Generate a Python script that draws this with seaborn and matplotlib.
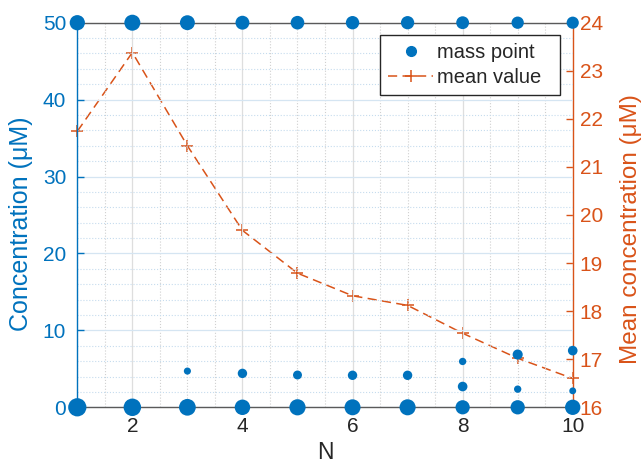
import pandas as pd
import seaborn as sns
import matplotlib.pyplot as plt
from matplotlib.lines import Line2D
from matplotlib.ticker import MultipleLocator

# support points of the discrete distribution for each N (concentration, uM)
n_values = [1, 2, 3, 4, 5, 6, 7, 8, 9, 10]
mass_points = [
    [0, 50],
    [0, 50],
    [0, 4.71, 50],
    [0, 4.41, 50],
    [0, 4.20, 50],
    [0, 4.16, 50],
    [0, 4.16, 50],
    [0, 2.70, 5.96, 50],
    [0, 2.36, 6.86, 50],
    [0, 2.14, 7.37, 50],
]
# weight of each mass point (drawn as marker size)
mass_weights = [
    [0.566, 0.434],
    [0.532, 0.468],
    [0.499, 0.080, 0.421],
    [0.444, 0.180, 0.376],
    [0.476, 0.160, 0.364],
    [0.467, 0.180, 0.353],
    [0.471, 0.180, 0.349],
    [0.390, 0.190, 0.090, 0.330],
    [0.393, 0.090, 0.210, 0.307],
    [0.439, 0.070, 0.190, 0.301],
]
mean_values = [21.74, 23.38, 21.44, 19.68, 18.79, 18.32, 18.12, 17.54, 17.02, 16.60]

BLUE = "#0072BD"
ORANGE = "#D95319"

rows = []
for n, pts, ws in zip(n_values, mass_points, mass_weights):
    for c, w in zip(pts, ws):
        rows.append({"N": n, "conc": c, "weight": w})
df = pd.DataFrame(rows)

# marker diameter grows linearly with weight
size_map = {w: (3.8 + 16.5 * w) ** 2 for w in df["weight"].unique()}

sns.set_style("white")
plt.rcParams["font.family"] = ["Liberation Sans", "DejaVu Sans"]

fig = plt.figure(figsize=(6.42, 4.68), dpi=100)
ax = fig.add_axes([0.1204, 0.1297, 0.7717, 0.8218])
ax2 = ax.twinx()

# left axis on top so the markers sit over the right spine
ax.set_zorder(ax2.get_zorder() + 1)
ax.patch.set_visible(False)

sns.lineplot(x=n_values, y=mean_values, ax=ax2, color=ORANGE, linestyle="--",
             linewidth=1.1, marker="+", markersize=9, markeredgewidth=1.1,
             markeredgecolor=ORANGE, clip_on=False)
ax2.lines[0].set_dashes((6, 3.5))

sns.scatterplot(data=df, x="N", y="conc", size="weight", sizes=size_map,
                color=BLUE, linewidth=0, legend=False, clip_on=False,
                zorder=5, ax=ax)

ax.set_xlim(1, 10)
ax.set_ylim(0, 50)
ax2.set_ylim(16, 24)
ax.xaxis.set_major_locator(MultipleLocator(2))
ax.xaxis.set_minor_locator(MultipleLocator(0.5))
ax.yaxis.set_major_locator(MultipleLocator(10))
ax.yaxis.set_minor_locator(MultipleLocator(2))
ax2.yaxis.set_major_locator(MultipleLocator(1))

# grid
ax.xaxis.grid(True, which="major", color="#dedede", linewidth=0.9)
ax.yaxis.grid(True, which="major", color="#d5e5f2", linewidth=0.9)
ax.xaxis.grid(True, which="minor", color="#d0d0d0", linestyle=":", linewidth=0.8)
ax.yaxis.grid(True, which="minor", color="#c6dcee", linestyle=":", linewidth=0.8)
ax.set_axisbelow(True)

# spines
for side in ["top", "bottom"]:
    ax.spines[side].set_color("#5a5a5a")
    ax.spines[side].set_linewidth(1.0)
ax.spines["left"].set_color(BLUE)
ax.spines["left"].set_linewidth(1.0)
ax.spines["right"].set_visible(False)
for side in ["top", "bottom", "left"]:
    ax2.spines[side].set_visible(False)
ax2.spines["right"].set_color(ORANGE)
ax2.spines["right"].set_linewidth(1.0)

ax.tick_params(axis="x", which="major", direction="in", length=5, width=1,
               colors="#262626", labelsize=15, pad=7)
ax.tick_params(axis="y", which="major", direction="in", length=5, width=1,
               colors=BLUE, labelsize=15, pad=8)
ax.tick_params(which="minor", length=0)
ax2.tick_params(axis="y", which="major", direction="in", length=5, width=1,
                colors=ORANGE, labelsize=15, pad=5)
ax2.tick_params(which="minor", length=0)

ax.set_xlabel("N", fontsize=16.5, color="#262626")
ax.set_ylabel("Concentration (μM)", fontsize=18, color=BLUE)
ax2.set_ylabel("Mean concentration (μM)", fontsize=17.5, color=ORANGE)
ax.xaxis.set_label_coords(0.5, -0.088)
ax.yaxis.set_label_coords(-0.0894, 0.4766)
ax2.yaxis.set_label_coords(1.0955, 0.4636)

handles = [
    Line2D([], [], color=BLUE, marker="o", linestyle="none", markersize=7),
    Line2D([], [], color=ORANGE, marker="+", linestyle="--", dashes=(6, 3.5),
           linewidth=1.1, markersize=9, markeredgewidth=1.1),
]
leg = ax.legend(handles, ["mass point  ", "mean value  "], loc="upper right",
                bbox_to_anchor=(0.975, 0.968), fontsize=14.5, frameon=True,
                fancybox=False, framealpha=1, edgecolor="#262626",
                handlelength=2.2, handletextpad=0.2, borderpad=0.4,
                labelspacing=0.3, borderaxespad=0)
leg.get_frame().set_linewidth(1.0)

fig.savefig("out.png", dpi=100, facecolor="white")
